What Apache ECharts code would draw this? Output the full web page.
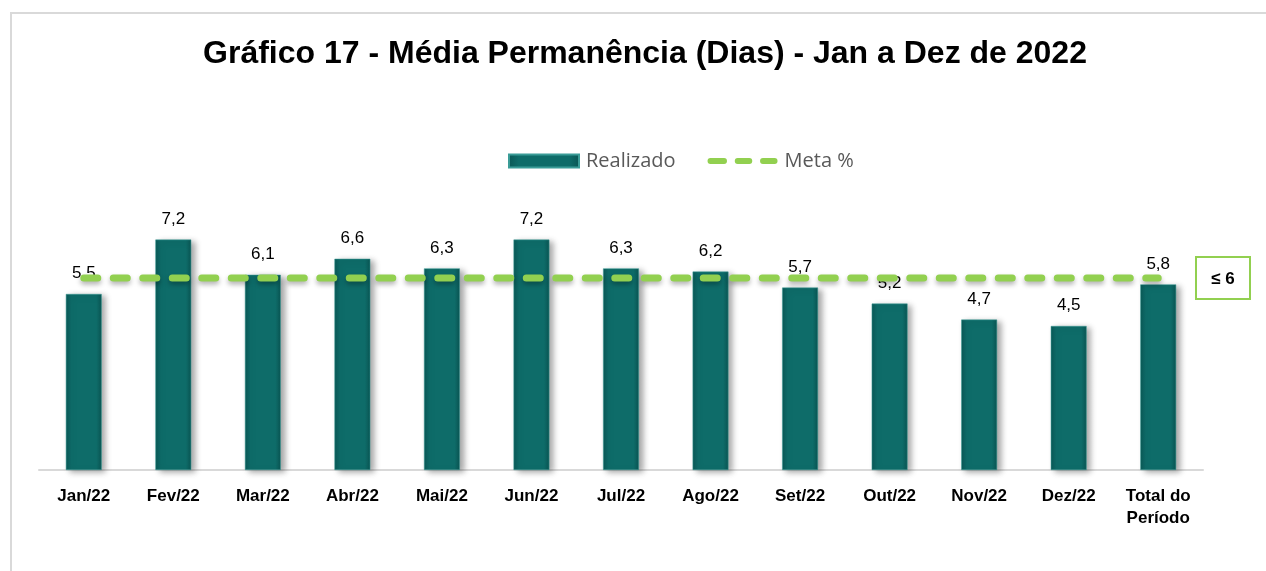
<!DOCTYPE html>
<html>
<head>
    <meta charset="UTF-8">
    <title>Gráfico 17</title>
    <script src="https://cdn.jsdelivr.net/npm/echarts/dist/echarts.min.js"></script>
    <style>
        html, body { margin: 0; padding: 0; background: #fff; }
        #chart { width: 1266px; height: 571px; }
    </style>
</head>
<body>
    <div id="chart"></div>
    <script type="text/javascript">
        // dados do gráfico
        var categorias = ['Jan/22', 'Fev/22', 'Mar/22', 'Abr/22', 'Mai/22', 'Jun/22', 'Jul/22',
            'Ago/22', 'Set/22', 'Out/22', 'Nov/22', 'Dez/22', 'Total do\nPeríodo'];
        var realizado = [5.5, 7.2, 6.1, 6.6, 6.3, 7.2, 6.3, 6.2, 5.7, 5.2, 4.7, 4.5, 5.8];
        var meta = [6, 6, 6, 6, 6, 6, 6, 6, 6, 6, 6, 6, 6];
        var metaTexto = '≤ 6';

        // ícone da legenda: três traços arredondados (caixa 72 x 13, traços no meio)
        var iconeTracos = 'path://M36,-3.5 L36.01,-3.5 M36,9.5 L36.01,9.5 ' +
            'M3,0 L17,0 A3,3 0 0 1 17,6 L3,6 A3,3 0 0 1 3,0 Z ' +
            'M31,0 L43,0 A3,3 0 0 1 43,6 L31,6 A3,3 0 0 1 31,0 Z ' +
            'M57,0 L69,0 A3,3 0 0 1 69,6 L57,6 A3,3 0 0 1 57,0 Z';

        var myChart = echarts.init(document.getElementById('chart'));

        var option = {
            animation: false,
            backgroundColor: '#ffffff',
            title: {
                text: 'Gráfico 17 - Média Permanência (Dias) - Jan a Dez de 2022',
                left: 640,
                textAlign: 'center',
                top: 33,
                textStyle: {
                    fontFamily: 'Liberation Sans',
                    fontSize: 32,
                    fontWeight: 'bold',
                    color: '#000'
                }
            },
            legend: {
                top: 146,
                left: 503,
                itemGap: 32,
                itemWidth: 70,
                itemHeight: 13,
                textStyle: {
                    fontFamily: 'Open Sans',
                    fontSize: 20,
                    color: '#595959',
                    padding: [0, 0, 0, 2]
                },
                data: [
                    { name: 'Realizado', icon: 'rect' },
                    { name: 'Meta %', icon: iconeTracos }
                ]
            },
            grid: {
                left: 39,
                right: 63,
                top: 150,
                bottom: 101
            },
            xAxis: {
                type: 'category',
                data: categorias,
                axisTick: { show: false },
                axisLine: { lineStyle: { color: '#d9d9d9', width: 2 } },
                axisLabel: {
                    fontFamily: 'Liberation Sans',
                    fontWeight: 'bold',
                    fontSize: 17,
                    color: '#000',
                    margin: 15,
                    lineHeight: 22,
                    interval: 0
                }
            },
            yAxis: {
                type: 'value',
                min: 0,
                max: 10,
                show: false,
                splitLine: { show: false }
            },
            series: [
                {
                    name: 'Realizado',
                    type: 'bar',
                    data: realizado,
                    barWidth: '40%',
                    itemStyle: {
                        color: new echarts.graphic.LinearGradient(0, 0, 1, 0, [
                            { offset: 0, color: '#0a5856' },
                            { offset: 0.15, color: '#0e6c69' },
                            { offset: 0.85, color: '#0e6c69' },
                            { offset: 1, color: '#0a5553' }
                        ]),
                        borderColor: '#3a9c97',
                        borderWidth: 0.5,
                        shadowColor: 'rgba(0,0,0,0.35)',
                        shadowBlur: 6,
                        shadowOffsetX: 4,
                        shadowOffsetY: 2
                    },
                    label: {
                        show: true,
                        position: 'top',
                        distance: 12,
                        fontFamily: 'Liberation Sans',
                        fontSize: 17,
                        color: '#000',
                        formatter: function (p) {
                            return String(p.value).replace('.', ',');
                        }
                    },
                    z: 2
                },
                {
                    name: 'Meta %',
                    type: 'line',
                    data: meta,
                    symbol: 'none',
                    lineStyle: {
                        color: '#92d050',
                        width: 7,
                        type: [14, 15.5],
                        cap: 'round',
                        shadowColor: 'rgba(0,0,0,0.3)',
                        shadowBlur: 5,
                        shadowOffsetY: 3
                    },
                    itemStyle: { color: '#92d050' },
                    z: 3
                }
            ],
            graphic: [
                {
                    type: 'rect',
                    shape: { x: 11, y: 13, width: 1300, height: 600 },
                    style: { fill: 'none', stroke: '#d9d9d9', lineWidth: 2 },
                    silent: true
                },
                {
                    type: 'rect',
                    shape: { x: 1196, y: 257, width: 54, height: 42 },
                    style: { fill: '#fff', stroke: '#92d050', lineWidth: 2 }
                },
                {
                    type: 'text',
                    x: 1223,
                    y: 279,
                    style: {
                        text: metaTexto,
                        align: 'center',
                        verticalAlign: 'middle',
                        fontFamily: 'Liberation Sans',
                        fontWeight: 'bold',
                        fontSize: 17,
                        fill: '#000'
                    }
                }
            ]
        };

        myChart.setOption(option);
    </script>
</body>
</html>
